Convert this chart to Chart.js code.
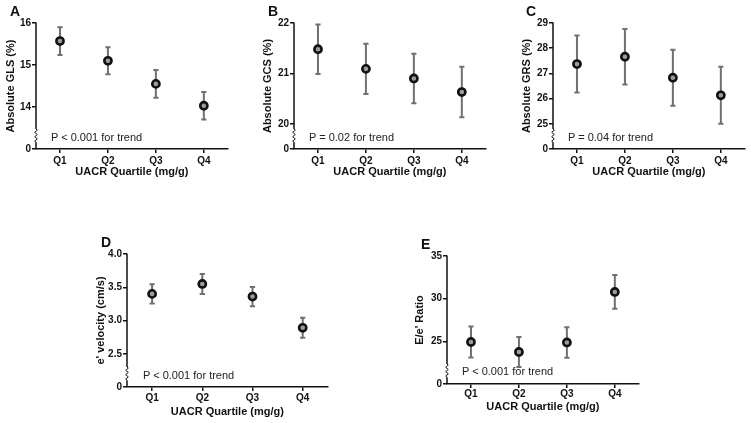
<!DOCTYPE html>
<html><head><meta charset="utf-8">
<script src="https://cdn.jsdelivr.net/npm/chart.js@4.4.1/dist/chart.umd.min.js"></script>
<style>
html,body{margin:0;padding:0;background:#fff}
body{width:751px;height:423px;overflow:hidden;position:relative;font-family:'Liberation Sans',Arial,sans-serif}
canvas{position:absolute}
.lbl{position:absolute;font-weight:bold;font-size:14px;line-height:14px;color:#111}
.pt{position:absolute;font-size:11px;line-height:11px;color:#222;white-space:nowrap}
</style></head><body>
<canvas id="cA" width="234" height="168" style="left:0px;top:15px"></canvas>
<canvas id="cB" width="235" height="168" style="left:257px;top:15px"></canvas>
<canvas id="cC" width="235" height="168" style="left:516px;top:15px"></canvas>
<canvas id="cD" width="244" height="177" style="left:90px;top:246px"></canvas>
<canvas id="cE" width="236" height="170" style="left:409px;top:248px"></canvas>
<div class="lbl" style="left:10px;top:4px">A</div>
<div class="lbl" style="left:268px;top:4px">B</div>
<div class="lbl" style="left:526px;top:4px">C</div>
<div class="lbl" style="left:101px;top:235px">D</div>
<div class="lbl" style="left:421px;top:237px">E</div>
<div class="pt" style="left:51px;top:132px">P &lt; 0.001 for trend</div>
<div class="pt" style="left:309px;top:132px">P = 0.02 for trend</div>
<div class="pt" style="left:568px;top:132px">P = 0.04 for trend</div>
<div class="pt" style="left:143px;top:370px">P &lt; 0.001 for trend</div>
<div class="pt" style="left:462px;top:366px">P &lt; 0.001 for trend</div>
<script>
// ---- data ----
const quartiles = ['Q1', 'Q2', 'Q3', 'Q4'];
const xTitle = 'UACR Quartile (mg/g)';

const glsMean = [15.57, 15.10, 14.55, 14.03];
const glsErr  = [0.33, 0.32, 0.33, 0.33];
const glsTicks = [13, 14, 15, 16];
const glsTickLabels = ['0', '14', '15', '16'];

const gcsMean = [21.48, 21.09, 20.90, 20.63];
const gcsErr  = [0.49, 0.50, 0.49, 0.50];
const gcsTicks = [19.5, 20, 21, 22];
const gcsTickLabels = ['0', '20', '21', '22'];

const grsMean = [27.37, 27.66, 26.83, 26.13];
const grsErr  = [1.13, 1.10, 1.11, 1.13];
const grsTicks = [24, 25, 26, 27, 28, 29];
const grsTickLabels = ['0', '25', '26', '27', '28', '29'];

const eVelMean = [3.40, 3.55, 3.36, 2.89];
const eVelErr  = [0.145, 0.15, 0.145, 0.15];
const eVelTicks = [2.0, 2.5, 3.0, 3.5, 4.0];
const eVelTickLabels = ['0', '2.5', '3.0', '3.5', '4.0'];

const eeMean = [24.92, 23.75, 24.87, 30.79];
const eeErr  = [1.81, 1.76, 1.78, 1.97];
const eeTicks = [20, 25, 30, 35];
const eeTickLabels = ['0', '25', '30', '35'];

// ---- drawing ----
const FONT = "'Liberation Sans', Arial, sans-serif";
const INK = '#111';

const errPlugin = {
  id: 'errbars',
  beforeDatasetsDraw(chart) {
    const {ctx, scales: {x, y}} = chart;
    const ds = chart.data.datasets[0];
    ctx.save();
    ctx.strokeStyle = '#707070';
    ctx.lineWidth = 2;
    ds.data.forEach((v, i) => {
      const px = x.getPixelForValue(i);
      const yt = y.getPixelForValue(v + ds.errors[i]);
      const yb = y.getPixelForValue(v - ds.errors[i]);
      ctx.beginPath();
      ctx.moveTo(px, yt); ctx.lineTo(px, yb);
      ctx.moveTo(px - 2.6, yt); ctx.lineTo(px + 2.6, yt);
      ctx.moveTo(px - 2.6, yb); ctx.lineTo(px + 2.6, yb);
      ctx.stroke();
    });
    ctx.restore();
  },
  afterDraw(chart) {
    // y axis line with a break (squiggle) just above the "0" tick
    const {ctx, chartArea: a} = chart;
    const xl = a.left;
    ctx.save();
    ctx.strokeStyle = INK;
    ctx.lineWidth = 1.5;
    ctx.beginPath();
    ctx.moveTo(xl, a.top - 0.5);
    let yy = a.bottom - 20;
    ctx.lineTo(xl, yy);
    ctx.stroke();
    ctx.lineWidth = 1;
    ctx.beginPath();
    ctx.moveTo(xl, yy);
    for (let k = 0; k < 3; k++) {
      ctx.quadraticCurveTo(xl + 2.6, yy + 1.1, xl, yy + 2.2);
      ctx.quadraticCurveTo(xl - 2.6, yy + 3.3, xl, yy + 4.4);
      yy += 4.4;
    }
    ctx.stroke();
    ctx.lineWidth = 1.5;
    ctx.beginPath();
    ctx.moveTo(xl, yy);
    ctx.lineTo(xl, a.bottom);
    ctx.stroke();
    ctx.restore();
  }
};

function makePanel(id, mean, err, ticks, tickLabels, yTitle, yWidth, xHeight, xPad) {
  new Chart(document.getElementById(id), {
    type: 'line',
    data: {
      labels: quartiles,
      datasets: [{
        data: mean,
        errors: err,
        showLine: false,
        pointRadius: 3.6,
        pointHoverRadius: 3.6,
        pointBorderWidth: 2.6,
        pointBorderColor: '#111',
        pointBackgroundColor: '#9c9c9c'
      }]
    },
    options: {
      responsive: false,
      animation: false,
      events: [],
      layout: {padding: {top: 8, right: 6, bottom: 0, left: 0}},
      plugins: {legend: {display: false}, tooltip: {enabled: false}},
      scales: {
        x: {
          type: 'category',
          offset: true,
          grid: {offset: false, drawOnChartArea: false, drawTicks: true, tickLength: 4, color: INK, lineWidth: 1.5},
          border: {display: true, color: INK, width: 1.5},
          ticks: {color: INK, padding: xPad, font: {family: FONT, size: 10, weight: 'bold'}},
          title: {display: true, text: xTitle, color: INK, padding: {top: 4, bottom: 4},
                  font: {family: FONT, size: 11, weight: 'bold'}},
          afterFit(s) { s.height = xHeight; }
        },
        y: {
          type: 'linear',
          min: ticks[0],
          max: ticks[ticks.length - 1],
          afterBuildTicks(s) { s.ticks = ticks.map(v => ({value: v})); },
          grid: {drawOnChartArea: false, drawTicks: true, tickLength: 4, color: INK, lineWidth: 1.5},
          border: {display: false},
          ticks: {
            color: INK, padding: 1, autoSkip: false,
            font: {family: FONT, size: 10, weight: 'bold'},
            callback(v) { const i = ticks.indexOf(v); return i >= 0 ? tickLabels[i] : ''; }
          },
          title: {display: true, text: yTitle, color: INK, padding: {top: 4, bottom: 4},
                  font: {family: FONT, size: 11, weight: 'bold'}},
          afterFit(s) { s.width = yWidth; }
        }
      }
    },
    plugins: [errPlugin]
  });
}

makePanel('cA', glsMean, glsErr, glsTicks, glsTickLabels, 'Absolute GLS (%)', 36, 34, 2);
makePanel('cB', gcsMean, gcsErr, gcsTicks, gcsTickLabels, 'Absolute GCS (%)', 37, 34, 2);
makePanel('cC', grsMean, grsErr, grsTicks, grsTickLabels, 'Absolute GRS (%)', 37, 34, 2);
makePanel('cD', eVelMean, eVelErr, eVelTicks, eVelTickLabels, "e' velocity (cm/s)", 37, 36, 1);
makePanel('cE', eeMean, eeErr, eeTicks, eeTickLabels, "E/e' Ratio", 38, 34, 0);
</script>
</body></html>
